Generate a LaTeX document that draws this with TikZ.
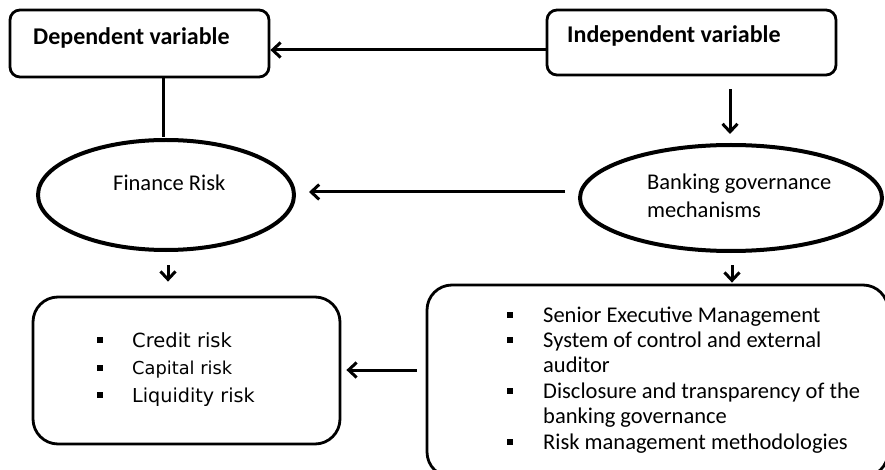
\documentclass[tikz,border=0pt]{standalone}
\usepackage{fontspec}
\setmainfont{Carlito}
\newfontfamily\verd{DejaVu Sans}
\usetikzlibrary{arrows.meta,shapes.geometric}
\begin{document}
\begin{tikzpicture}[x=1pt,y=-1pt,
  box/.style={draw,line width=2.8pt,rounded corners=10pt,inner sep=0pt},
  bigbox/.style={box,rounded corners=25pt},
  oval/.style={draw,ellipse,line width=4pt,inner sep=0pt},
  conn/.style={line width=3pt,-{Straight Barb[length=8pt,width=15pt,line width=3pt]}},
  plain/.style={line width=3pt},
  title/.style={inner sep=0pt,anchor=base west,font=\bfseries\fontsize{24}{28}\selectfont},
  txt/.style={inner sep=0pt,anchor=base west,align=left,font=\fontsize{22.5}{28}\selectfont},
  lst/.style={inner sep=0pt,anchor=base west},
]
\useasboundingbox (0,0) rectangle (885,470);
\clip (0,0) rectangle (885,470);

% boxes and ovals
\node[box,minimum width=259pt,minimum height=67pt] (dep) at (139.5,43.5) {};
\node[box,minimum width=289pt,minimum height=65pt] (ind) at (691.5,42.5) {};
\node[oval,minimum width=256pt,minimum height=110pt] (fin) at (166,195) {};
\node[oval,minimum width=302pt,minimum height=106pt] (bank) at (731,198) {};
\node[bigbox,minimum width=307pt,minimum height=147pt] (risk) at (186.5,370.5) {};
\node[bigbox,minimum width=461pt,minimum height=192pt] (mech) at (657.5,381) {};

% texts
\node[title] (deptxt) at (33,45) {Dependent variable};
\node[title] (indtxt) at (567,43) {Independent variable};
\node[txt] (fintxt) at (113,191) {Finance Risk};
\node[txt] (banktxt) at (647,218) {Banking governance\\mechanisms};

\node[lst,font=\verd\fontsize{19.5}{27.5}\selectfont] (risktxt) at (97,347) {%
  \begin{tabular}[t]{@{}p{35pt}@{}l@{}}
  \rule[4pt]{6pt}{6pt} & Credit risk\\
  \rule[4pt]{6pt}{6pt} & \fontsize{17.8}{27.5}\selectfont Capital risk\\
  \rule[4pt]{6pt}{6pt} & \fontsize{19.2}{27.5}\selectfont Liquidity risk
  \end{tabular}};

\node[lst,font=\fontsize{22.5}{25.4}\selectfont] (mechtxt) at (507,322) {%
  \begin{tabular}[t]{@{}p{36pt}@{}l@{}}
  \rule[4pt]{6pt}{6pt} & Senior Executive Management\\
  \rule[4pt]{6pt}{6pt} & System of control and external\\
   & auditor\\
  \rule[4pt]{6pt}{6pt} & Disclosure and transparency of the\\
   & banking governance\\
  \rule[4pt]{6pt}{6pt} & Risk management methodologies
  \end{tabular}};

% connectors
\draw[conn] ([yshift=-7.5pt]ind.west) -- ([yshift=-6.5pt]dep.east);
\draw[plain] ([xshift=23.5pt]dep.south) -- ([xshift=-3pt,yshift=1pt]fin.north);
\draw[conn] ([xshift=38.5pt,yshift=-13pt]ind.south) -- ([xshift=-1pt,yshift=9pt]bank.north);
\draw[conn] ([xshift=-13pt,yshift=6pt]bank.west) -- ([xshift=13pt,yshift=3pt]fin.east);
\draw[conn] ([xshift=2pt,yshift=-13pt]fin.south) -- ([xshift=-18.5pt,yshift=14pt]risk.north);
\draw[conn] ([xshift=1pt,yshift=-12pt]bank.south) -- ([xshift=74.5pt,yshift=1pt]mech.north);
\draw[conn] ([xshift=-9pt,yshift=11pt]mech.west) -- ([xshift=5pt,yshift=0.5pt]risk.east);
\end{tikzpicture}
\end{document}
